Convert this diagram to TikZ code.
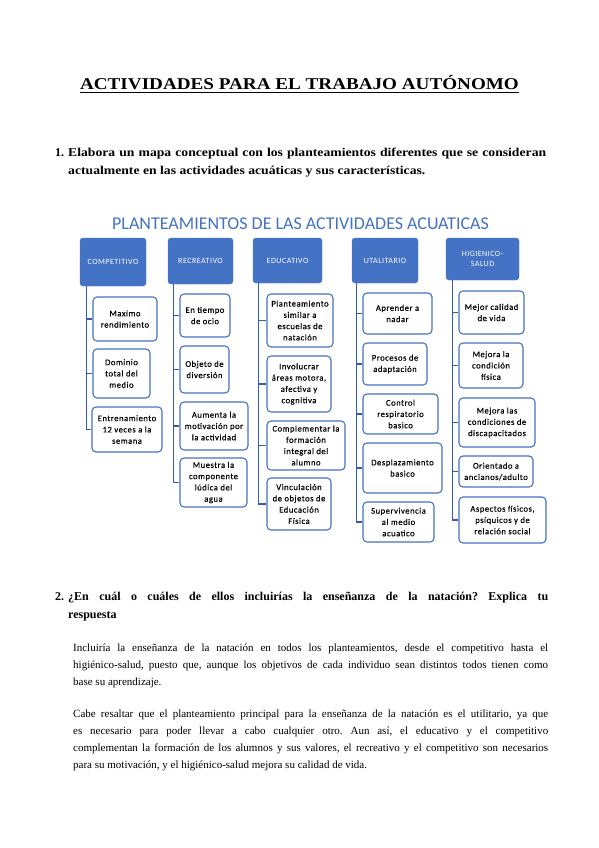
\documentclass[tikz,border=0pt]{standalone}
\usepackage{fontspec}
\setmainfont{Liberation Serif}
\newfontfamily\mapfont[LetterSpace=6]{Carlito}
\newfontfamily\itemfont[LetterSpace=6,FakeBold=0.4]{Carlito}
\newfontfamily\maptitlefont{Carlito}
\newfontfamily\widefont[FakeStretch=1.16]{Liberation Serif}
\newfontfamily\askfont[FakeStretch=1.14]{Liberation Serif}
\definecolor{mapblue}{RGB}{68,114,196}
\definecolor{linkblue}{RGB}{52,92,170}

\begin{document}
\begin{tikzpicture}[x=1pt,y=-1pt]
\tikzstyle{every node}+=[inner sep=0pt]
\tikzstyle{head}=[draw=mapblue,fill=mapblue,rounded corners=3pt,text=white,align=center,font=\mapfont\fontsize{8}{10}\selectfont]
\tikzstyle{item}=[draw=mapblue,line width=1.1pt,fill=white,rounded corners=4pt,align=center,font=\itemfont\fontsize{8.6}{11.3}\selectfont]
\tikzstyle{link}=[draw=linkblue,line width=1.3pt]
\tikzstyle{body}=[anchor=base west,align=justify,font=\frenchspacing\fontsize{11}{17}\selectfont]
\tikzstyle{ask}=[anchor=base west,align=justify,font=\frenchspacing\bfseries\fontsize{12}{18}\selectfont]
\fill [white] (0,0) rectangle (599,848);
\useasboundingbox (0,0) rectangle (599,848);
% title and first question
\node [anchor=base,font=\widefont\bfseries\fontsize{16.5}{18}\selectfont] (title) at (299.5,90) {ACTIVIDADES PARA EL TRABAJO AUTÓNOMO};
\draw [line width=0.8pt] ([yshift=-2.5pt]title.base west) -- ([yshift=-2.5pt]title.base east);
\node [ask] (num1) at (55,156) {1.};
\node [ask,text width=478pt,font=\askfont\bfseries\frenchspacing\fontsize{12}{18}\selectfont] (q1) at (68,156) {Elabora un mapa conceptual con los planteamientos diferentes que se consideran\linebreak actualmente en las actividades acuáticas y sus características.};
% concept map
\node [anchor=base,text=mapblue,font=\maptitlefont\fontsize{18}{20}\selectfont] (maptitle) at (300.5,229) {PLANTEAMIENTOS DE LAS ACTIVIDADES ACUATICAS};
\node [head,minimum width=66,minimum height=48] (comp) at (113,262) {COMPETITIVO};
\node [head,minimum width=65,minimum height=46] (recr) at (200.5,261) {RECREATIVO};
\node [head,minimum width=69,minimum height=45] (educ) at (287.5,260.5) {EDUCATIVO};
\node [head,minimum width=66,minimum height=45] (util) at (385,260.5) {UTALITARIO};
\node [head,minimum width=73,minimum height=42] (hig) at (482.5,259) {HIGIENICO-\\SALUD};
\node [item,minimum width=64,minimum height=44] (comp1) at (125,319) {Maximo\\rendimiento};
\node [item,minimum width=57,minimum height=49] (comp2) at (121.5,373.5) {Dominio\\total del\\medio};
\node [item,minimum width=70,minimum height=45] (comp3) at (127,429.5) {Entrenamiento\\12 veces a la\\semana};
\node [item,minimum width=50,minimum height=43] (recr1) at (205,315.5) {En tiempo\\de ocio};
\node [item,minimum width=49,minimum height=47] (recr2) at (204.5,369.5) {Objeto de\\diversión};
\node [item,minimum width=68,minimum height=48] (recr3) at (214,426) {Aumenta la\\motivación por\\la actividad};
\node [item,minimum width=67,minimum height=49] (recr4) at (213.5,482.5) {Muestra la\\componente\\lúdica del\\agua};
\node [item,minimum width=66,minimum height=53] (educ1) at (300,320.5) {Planteamiento\\similar a\\escuelas de\\natación};
\node [item,minimum width=64,minimum height=56] (educ2) at (299,384) {Involucrar\\áreas motora,\\afectiva y\\cognitiva};
\node [item,minimum width=78,minimum height=49] (educ3) at (306,445.5) {Complementar la\\formación\\integral del\\alumno};
\node [item,minimum width=64,minimum height=52] (educ4) at (299,504) {Vinculación\\de objetos de\\Educación\\Física};
\node [item,minimum width=69,minimum height=41] (util1) at (397.5,313.5) {Aprender a\\nadar};
\node [item,minimum width=64,minimum height=42] (util2) at (395,364) {Procesos de\\adaptación};
\node [item,minimum width=75,minimum height=40] (util3) at (400.5,414) {Control\\respiratorio\\basico};
\node [item,minimum width=79,minimum height=50] (util4) at (402.5,468) {Desplazamiento\\basico};
\node [item,minimum width=71,minimum height=40] (util5) at (398.5,522) {Supervivencia\\al medio\\acuatico};
\node [item,minimum width=65,minimum height=43] (hig1) at (491.5,312.5) {Mejor calidad\\de vida};
\node [item,minimum width=64,minimum height=45] (hig2) at (491,365.5) {Mejora la\\condición\\física};
\node [item,minimum width=76,minimum height=49] (hig3) at (497,422.5) {Mejora las\\condiciones de\\discapacitados};
\node [item,minimum width=74,minimum height=31] (hig4) at (496,471.5) {Orientado a\\ancianos/adulto};
\node [item,minimum width=87,minimum height=46] (hig5) at (502.5,520) {Aspectos físicos,\\psíquicos y de\\relación social};
\draw [link] ([xshift=7pt]comp.south west) |- (comp1.west);
\draw [link] ([xshift=7pt]comp.south west) |- (comp2.west);
\draw [link] ([xshift=7pt]comp.south west) |- (comp3.west);
\draw [link] ([xshift=6pt]recr.south west) |- (recr1.west);
\draw [link] ([xshift=6pt]recr.south west) |- (recr2.west);
\draw [link] ([xshift=6pt]recr.south west) |- (recr3.west);
\draw [link] ([xshift=6pt]recr.south west) |- (recr4.west);
\draw [link] ([xshift=6pt]educ.south west) |- (educ1.west);
\draw [link] ([xshift=6pt]educ.south west) |- (educ2.west);
\draw [link] ([xshift=6pt]educ.south west) |- (educ3.west);
\draw [link] ([xshift=6pt]educ.south west) |- (educ4.west);
\draw [link] ([xshift=5pt]util.south west) |- (util1.west);
\draw [link] ([xshift=5pt]util.south west) |- (util2.west);
\draw [link] ([xshift=5pt]util.south west) |- (util3.west);
\draw [link] ([xshift=5pt]util.south west) |- (util4.west);
\draw [link] ([xshift=5pt]util.south west) |- (util5.west);
\draw [link] ([xshift=7pt]hig.south west) |- (hig1.west);
\draw [link] ([xshift=7pt]hig.south west) |- (hig2.west);
\draw [link] ([xshift=7pt]hig.south west) |- (hig3.west);
\draw [link] ([xshift=7pt]hig.south west) |- (hig4.west);
\draw [link] ([xshift=7pt]hig.south west) |- (hig5.west);
% second question and answer
\node [ask] (num2) at (55,600) {2.};
\node [ask,text width=480pt] (q2) at (68,600) {¿En cuál o cuáles de ellos incluirías la enseñanza de la natación? Explica tu\linebreak respuesta};
\node [body,text width=475pt] (ans1) at (73,651) {Incluiría la enseñanza de la natación en todos los planteamientos, desde el competitivo hasta el\linebreak higiénico-salud, puesto que, aunque los objetivos de cada individuo sean distintos todos tienen como\linebreak base su aprendizaje.};
\node [body,text width=475pt] (ans2) at (73,717) {Cabe resaltar que el planteamiento principal para la enseñanza de la natación es el utilitario, ya que\linebreak es necesario para poder llevar a cabo cualquier otro. Aun así, el educativo y el competitivo\linebreak complementan la formación de los alumnos y sus valores, el recreativo y el competitivo son necesarios\linebreak para su motivación, y el higiénico-salud mejora su calidad de vida.};
\end{tikzpicture}
\end{document}
